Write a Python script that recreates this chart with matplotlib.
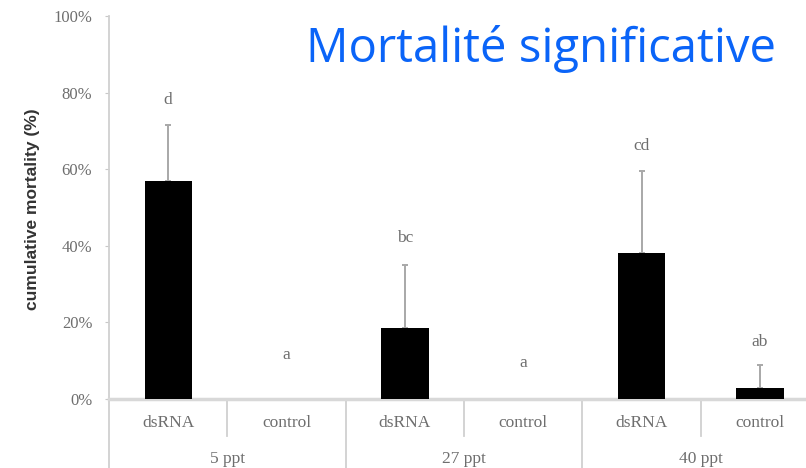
import numpy as np
import matplotlib
matplotlib.use("Agg")
import matplotlib.pyplot as plt
import matplotlib.transforms as mtransforms

# data
groups = ["5 ppt", "27 ppt", "40 ppt"]
treatments = ["dsRNA", "control"]
mortality = [57.0, 0.0, 18.5, 0.0, 38.0, 3.0]
err_up = [14.5, 0.0, 16.5, 0.0, 21.5, 6.0]
letters = ["d", "a", "bc", "a", "cd", "ab"]
letter_y = [78.0, 11.5, 42.0, 9.5, 66.0, 15.0]
yticks = [0, 20, 40, 60, 80, 100]

W, H = 806, 468
fig = plt.figure(figsize=(W / 100, H / 100), dpi=100)
ax = fig.add_axes([109 / W, 69 / H, (819 - 109) / W, 383 / H])

txt = "#6e6e6e"
x = np.arange(len(mortality))

ax.bar(x, mortality, width=0.4, color="black", zorder=3)
for xi, m, e in zip(x, mortality, err_up):
    if e > 0:
        ax.errorbar(xi, m, yerr=[[0], [e]], fmt="none", ecolor="#a8a8a8",
                    elinewidth=1.4, capsize=2.5, capthick=1.4, zorder=2)
for xi, lab, ly in zip(x, letters, letter_y):
    ax.text(xi, ly, lab, ha="center", va="center", fontsize=12.5,
            family="Liberation Serif", color=txt)

ax.set_xlim(-0.5, 5.5)
ax.set_ylim(0, 100)
ax.set_yticks(yticks)
ax.set_yticklabels([f"{t}%" for t in yticks], family="Liberation Serif",
                   fontsize=12, color=txt)
ax.tick_params(axis="y", length=3, color="#c8c8c8", pad=9)
ax.set_xticks([])
for s in ["top", "right"]:
    ax.spines[s].set_visible(False)
ax.spines["left"].set_color("#d0d0d0")
ax.spines["left"].set_linewidth(1.3)
ax.spines["bottom"].set_color("#d8d8d8")
ax.spines["bottom"].set_linewidth(2.5)

# category labels and separators below the axis
trans = mtransforms.blended_transform_factory(ax.transData, fig.transFigure)
for i in range(len(mortality)):
    ax.text(i, 1 - 423 / H, treatments[i % 2], transform=trans, ha="center",
            va="center", fontsize=12.5, family="Liberation Serif", color=txt)
for j, g in enumerate(groups):
    ax.text(2 * j + 0.5, 1 - 459 / H, g, transform=trans, ha="center",
            va="center", fontsize=12.5, family="Liberation Serif", color=txt)
for k in range(7):
    xs = k - 0.5
    y_end = 0 if k % 2 == 0 else 1 - 436 / H
    ax.plot([xs, xs], [1 - 400 / H, y_end], transform=trans, color="#d0d0d0",
            lw=1.3, clip_on=False)

fig.text(33 / W, 1 - 209 / H, "cumulative mortality (%)", rotation=90,
         ha="center", va="center", fontsize=12.5, fontweight="bold",
         family="Liberation Sans", color="#333333")

fig.text(541 / W, 1 - 49 / H, "Mortalité significative", ha="center",
         va="center", fontsize=34, family="Open Sans", color="#0a64f8")

fig.savefig("out.png", dpi=100)
